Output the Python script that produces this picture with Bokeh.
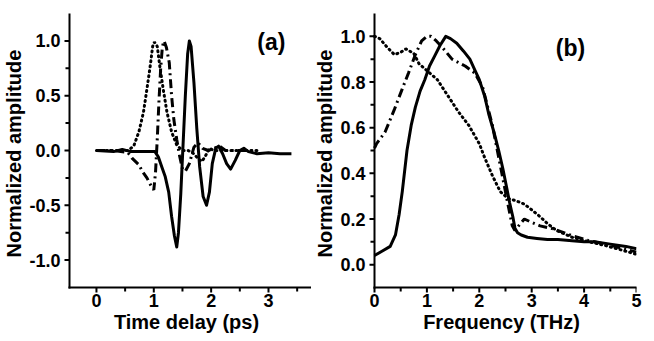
from bokeh.plotting import figure
from bokeh.layouts import row
from bokeh.models import FixedTicker, NumeralTickFormatter, Range1d
from bokeh.core.properties import value
from bokeh.embed import file_html
from bokeh.resources import INLINE

# ---- panel (a): time-domain waveforms ----
t_solid = [0.0, 0.3, 0.45, 0.6, 0.9, 1.02, 1.08, 1.14, 1.2, 1.26, 1.31, 1.36, 1.40, 1.43, 1.47, 1.51, 1.55, 1.59,
           1.62, 1.65, 1.70, 1.75, 1.80, 1.86, 1.92, 1.97, 2.02, 2.08, 2.13, 2.2, 2.27, 2.34, 2.42, 2.5, 2.57,
           2.65, 2.8, 3.0, 3.2, 3.4]
a_solid = [0.0, -0.01, 0.01, -0.01, -0.01, -0.01, -0.06, -0.15, -0.24, -0.38, -0.6, -0.78, -0.88, -0.75, -0.4,
           0.05, 0.5, 0.88, 1.0, 0.95, 0.62, 0.2, -0.15, -0.42, -0.5, -0.38, -0.12, 0.02, 0.04, -0.03, -0.12,
           -0.17, -0.09, 0.0, 0.02, -0.01, -0.03, -0.02, -0.03, -0.03]

t_dot = [0.0, 0.3, 0.55, 0.65, 0.74, 0.82, 0.88, 0.94, 0.98, 1.01, 1.06, 1.11, 1.17, 1.23, 1.31, 1.40, 1.5, 1.6,
         1.7, 1.78, 1.84, 1.9, 1.97, 2.05, 2.3, 2.6, 2.85]
a_dot = [0.0, 0.0, 0.0, 0.04, 0.17, 0.35, 0.56, 0.78, 0.95, 0.99, 0.95, 0.75, 0.54, 0.35, 0.17, 0.05, 0.0, 0.0,
         -0.03, -0.08, -0.1, -0.05, 0.02, 0.0, 0.0, 0.0, 0.0]

t_dd = [0.0, 0.3, 0.55, 0.62, 0.74, 0.80, 0.88, 0.95, 1.0, 1.03, 1.06, 1.09, 1.12, 1.15, 1.18, 1.22, 1.27, 1.31,
        1.35, 1.40, 1.45, 1.50, 1.55, 1.62, 1.70, 1.77, 1.85, 1.95, 2.05, 2.15, 2.25, 2.5, 2.8]
a_dd = [0.0, 0.0, -0.02, -0.07, -0.13, -0.19, -0.25, -0.32, -0.36, -0.2, 0.1, 0.45, 0.75, 0.95, 1.0, 0.94, 0.8,
        0.5, 0.28, 0.1, -0.05, -0.17, -0.19, -0.12, 0.03, 0.07, 0.02, 0.0, 0.02, 0.04, 0.0, 0.0, 0.0]

# ---- panel (b): spectra ----
f_solid = [0.0, 0.15, 0.3, 0.4, 0.47, 0.53, 0.62, 0.7, 0.78, 0.87, 0.96, 1.05, 1.14, 1.25, 1.36, 1.45, 1.57, 1.7,
           1.82, 1.92, 2.0, 2.1, 2.18, 2.28, 2.37, 2.45, 2.52, 2.58, 2.64, 2.68, 2.73, 2.8, 2.92, 3.1, 3.3, 3.5,
           3.77, 4.0, 4.2, 4.5, 4.8, 5.0]
b_solid = [0.04, 0.06, 0.08, 0.13, 0.22, 0.32, 0.50, 0.61, 0.69, 0.76, 0.81, 0.87, 0.91, 0.96, 1.0, 0.99, 0.97,
           0.935, 0.90, 0.85, 0.81, 0.74, 0.66, 0.58, 0.50, 0.42, 0.34, 0.27, 0.21, 0.16, 0.14, 0.13, 0.12, 0.115,
           0.11, 0.11, 0.105, 0.10, 0.10, 0.09, 0.08, 0.07]

f_dd = [0.0, 0.04, 0.2, 0.29, 0.38, 0.53, 0.65, 0.78, 0.9, 1.0, 1.08, 1.18, 1.3, 1.48, 1.73, 1.91, 2.06, 2.25,
        2.43, 2.55, 2.63, 2.68, 2.75, 2.86, 3.0, 3.16, 3.41, 3.77, 4.08, 4.5, 5.0]
b_dd = [0.51, 0.53, 0.58, 0.63, 0.68, 0.77, 0.84, 0.92, 0.98, 1.0, 1.0, 0.98, 0.95, 0.90, 0.87, 0.84, 0.78, 0.61,
        0.40, 0.26, 0.17, 0.15, 0.17, 0.20, 0.185, 0.17, 0.157, 0.127, 0.106, 0.085, 0.055]

f_dot = [0.0, 0.1, 0.25, 0.38, 0.5, 0.6, 0.75, 0.85, 1.0, 1.2, 1.4, 1.6, 1.8, 2.0, 2.1, 2.25, 2.4, 2.5, 2.55, 2.7,
         2.86, 3.0, 3.16, 3.3, 3.47, 3.77, 4.1, 4.4, 4.7, 5.0]
b_dot = [1.0, 0.99, 0.95, 0.92, 0.93, 0.945, 0.925, 0.88, 0.85, 0.81, 0.74, 0.67, 0.61, 0.53, 0.47, 0.39, 0.32,
         0.30, 0.29, 0.28, 0.265, 0.24, 0.21, 0.18, 0.15, 0.12, 0.10, 0.084, 0.065, 0.045]

a_xlim = (-0.47, 3.75)
a_ylim = (-1.25, 1.25)
a_xticks = [0, 1, 2, 3]
a_xminor = [0.5, 1.5, 2.5, 3.5]
a_yticks = [-1.0, -0.5, 0.0, 0.5, 1.0]
a_yminor = [-0.75, -0.25, 0.25, 0.75]
b_xlim = (0.0, 5.0)
b_ylim = (-0.1, 1.1)
b_xticks = [0, 1, 2, 3, 4, 5]
b_xminor = [0.5, 1.5, 2.5, 3.5, 4.5]
b_yticks = [0.0, 0.2, 0.4, 0.6, 0.8, 1.0]
b_yminor = [0.1, 0.3, 0.5, 0.7, 0.9]

FONT = "Liberation Sans"
PAD_L = 8   # px between frame edge and drawn axis rule (room for outward ticks)
PAD_B = 6


def make_panel(xlim, ylim, vis_w, vis_h, xticks, xminor, yticks, yminor, xlabel, ylabel,
               border_left, border_top, border_right):
    sx = vis_w / (xlim[1] - xlim[0])
    sy = vis_h / (ylim[1] - ylim[0])
    x_start = xlim[0] - PAD_L / sx
    y_start = ylim[0] - PAD_B / sy
    p = figure(frame_width=vis_w + PAD_L, frame_height=vis_h + PAD_B, output_backend="svg",
               toolbar_location=None, x_range=Range1d(x_start, xlim[1]), y_range=Range1d(y_start, ylim[1]),
               min_border_left=border_left, min_border_right=border_right, min_border_top=border_top,
               min_border_bottom=10)
    p.outline_line_color = None
    p.xgrid.grid_line_color = None
    p.ygrid.grid_line_color = None
    for ax in (p.xaxis[0], p.yaxis[0]):
        ax.axis_line_color = None
        ax.major_tick_line_color = None
        ax.minor_tick_line_color = None
        ax.major_tick_in = 0
        ax.major_tick_out = 0
        ax.minor_tick_in = 0
        ax.minor_tick_out = 0
        ax.major_label_text_font = FONT
        ax.major_label_text_font_style = "bold"
        ax.major_label_text_font_size = "18px"
        ax.major_label_text_color = "black"
        ax.axis_label_text_font = FONT
        ax.axis_label_text_font_style = "bold"
        ax.axis_label_text_color = "black"
        ax.axis_label_standoff = 1
    p.xaxis[0].major_label_standoff = 0
    p.yaxis[0].major_label_standoff = 1
    p.xaxis[0].ticker = FixedTicker(ticks=xticks)
    p.yaxis[0].ticker = FixedTicker(ticks=yticks)
    p.yaxis[0].formatter = NumeralTickFormatter(format="0.0")
    p.xaxis[0].axis_label = xlabel
    p.yaxis[0].axis_label = ylabel
    p.xaxis[0].axis_label_text_font_size = "20px"
    p.yaxis[0].axis_label_text_font_size = "20px"

    # axis rules and outward ticks, drawn from the tick lists
    x0, y0 = xlim[0], ylim[0]
    p.segment(x0=[x0, x0], y0=[y0, y0], x1=[x0, xlim[1]], y1=[ylim[1], y0],
              line_color="black", line_width=2, line_cap="square")
    p.segment(x0=[x0] * len(yticks), y0=yticks, x1=[x0 - 5 / sx] * len(yticks), y1=yticks,
              line_color="black", line_width=2)
    p.segment(x0=[x0] * len(yminor), y0=yminor, x1=[x0 - 4 / sx] * len(yminor), y1=yminor,
              line_color="black", line_width=2)
    p.segment(x0=xticks, y0=[y0] * len(xticks), x1=xticks, y1=[y0 - 5 / sy] * len(xticks),
              line_color="black", line_width=2)
    p.segment(x0=xminor, y0=[y0] * len(xminor), x1=xminor, y1=[y0 - 4 / sy] * len(xminor),
              line_color="black", line_width=2)
    return p


def add_curves(p, xs_dot, ys_dot, xs_dd, ys_dd, xs_solid, ys_solid):
    p.line(xs_dot, ys_dot, line_color="black", line_width=3, line_dash="1 4", line_cap="round")
    p.line(xs_dd, ys_dd, line_color="black", line_width=3, line_dash="9 4 2 4")
    p.line(xs_solid, ys_solid, line_color="black", line_width=3, line_join="round")


pa = make_panel(a_xlim, a_ylim, 242, 274, a_xticks, a_xminor, a_yticks, a_yminor,
                "Time delay (ps)", "Normalized amplitude", 55, 13, 0)
add_curves(pa, t_dot, a_dot, t_dd, a_dd, t_solid, a_solid)
pa.text(x=[3.05], y=[0.99], text=["(a)"], text_font=value(FONT), text_font_style="bold",
        text_font_size="23px", text_align="center", text_baseline="middle", text_color="black")

pb = make_panel(b_xlim, b_ylim, 262, 274, b_xticks, b_xminor, b_yticks, b_yminor,
                "Frequency (THz)", "Normalized amplitude", 50, 11, 6)
add_curves(pb, f_dot, b_dot, f_dd, b_dd, f_solid, b_solid)
pb.text(x=[3.74], y=[0.95], text=["(b)"], text_font=value(FONT), text_font_style="bold",
        text_font_size="23px", text_align="center", text_baseline="middle", text_color="black")

layout = row(pa, pb)
open("out.html", "w").write(file_html(layout, INLINE))
